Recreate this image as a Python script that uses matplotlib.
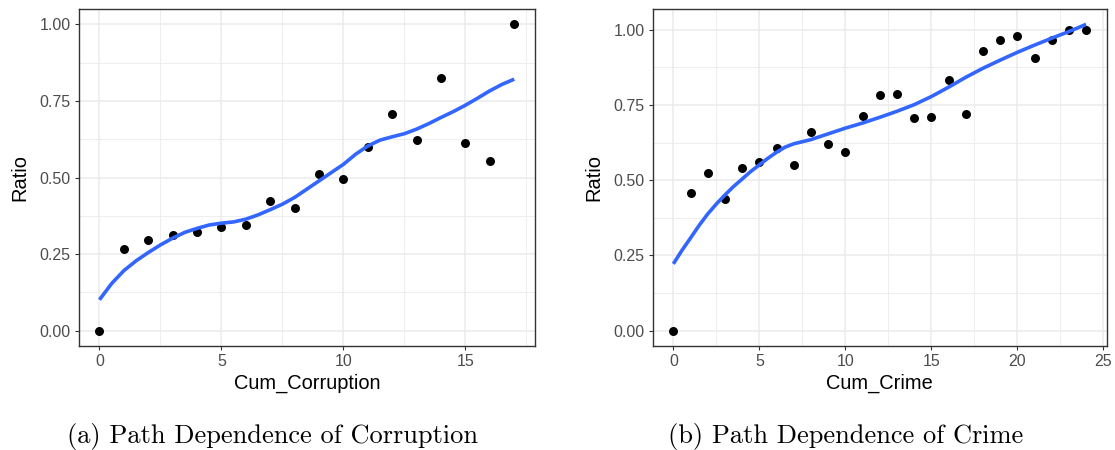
import matplotlib
matplotlib.use('Agg')
import matplotlib.pyplot as plt
from matplotlib.ticker import MultipleLocator

plt.rcParams['font.family'] = ['Liberation Sans', 'DejaVu Sans']

# left panel: corruption
corr_x = list(range(18))
corr_ratio = [0.0, 0.265, 0.296, 0.311, 0.322, 0.340, 0.345, 0.424, 0.399, 0.513,
              0.495, 0.598, 0.707, 0.624, 0.824, 0.611, 0.554, 1.0]
# smooth (loess) line
corr_fit_x = [0, 0.5, 1, 1.5, 2, 2.5, 3, 3.5, 4, 4.5, 5, 5.5, 6, 6.5, 7, 7.5, 8, 8.5,
              9, 9.5, 10, 10.5, 11, 11.5, 12, 12.5, 13, 13.5, 14, 14.5, 15, 15.5, 16, 16.5, 17]
corr_fit_y = [0.101, 0.154, 0.196, 0.228, 0.255, 0.280, 0.302, 0.321, 0.334, 0.345,
              0.351, 0.355, 0.364, 0.378, 0.395, 0.413, 0.435, 0.462, 0.489, 0.516,
              0.543, 0.576, 0.603, 0.622, 0.633, 0.643, 0.658, 0.676, 0.696, 0.715,
              0.736, 0.759, 0.783, 0.804, 0.821]

# right panel: crime
crime_x = list(range(25))
crime_ratio = [0.0, 0.458, 0.525, 0.437, 0.542, 0.562, 0.606, 0.551, 0.659, 0.622,
               0.595, 0.712, 0.782, 0.785, 0.708, 0.709, 0.834, 0.720, 0.929, 0.967,
               0.978, 0.907, 0.967, 1.0, 1.0]
crime_fit_x = [0, 0.5, 1, 1.5, 2, 2.5, 3, 3.5, 4, 4.5, 5, 5.5, 6, 6.5, 7, 7.5, 8, 9,
               10, 11, 12, 13, 14, 15, 16, 17, 18, 19, 20, 21, 22, 23, 24]
crime_fit_y = [0.222, 0.267, 0.308, 0.350, 0.388, 0.421, 0.451, 0.479, 0.504, 0.529,
               0.551, 0.573, 0.593, 0.610, 0.621, 0.628, 0.635, 0.654, 0.673, 0.690,
               0.709, 0.729, 0.751, 0.778, 0.809, 0.842, 0.872, 0.899, 0.925, 0.949,
               0.972, 0.994, 1.018]

y_ticks = [0.0, 0.25, 0.5, 0.75, 1.0]
y_labels = ['0.00', '0.25', '0.50', '0.75', '1.00']

fig = plt.figure(figsize=(11.15, 4.5), dpi=100)
ax1 = fig.add_axes([0.0706, 0.2311, 0.4092, 0.7489])
ax2 = fig.add_axes([0.5854, 0.2311, 0.4072, 0.7489])


def style_panel(ax, x, y, fx, fy, xlab):
    ax.scatter(x, y, s=42, color='black', zorder=3, linewidths=0)
    ax.plot(fx, fy, color='#3366FF', lw=2.6, zorder=4, solid_capstyle='butt')
    ax.set_yticks(y_ticks)
    ax.set_yticklabels(y_labels)
    ax.xaxis.set_major_locator(MultipleLocator(5))
    ax.xaxis.set_minor_locator(MultipleLocator(2.5))
    ax.yaxis.set_minor_locator(MultipleLocator(0.125))
    ax.grid(which='major', color='#EBEBEB', lw=1.1, zorder=0)
    ax.grid(which='minor', color='#EBEBEB', lw=0.6, zorder=0)
    ax.set_axisbelow(True)
    ax.tick_params(which='major', length=3, width=0.8, color='#333333',
                   labelsize=11.5, labelcolor='#4D4D4D', pad=3)
    ax.tick_params(which='minor', length=0)
    for s in ax.spines.values():
        s.set_color('#333333')
        s.set_linewidth(1.0)
    ax.set_xlabel(xlab, fontsize=14.4, labelpad=3)
    ax.set_ylabel('Ratio', fontsize=14.4, labelpad=7)


style_panel(ax1, corr_x, corr_ratio, corr_fit_x, corr_fit_y, 'Cum_Corruption')
ax1.set_xlim(-0.85, 17.85)
ax1.set_ylim(-0.05, 1.05)

style_panel(ax2, crime_x, crime_ratio, crime_fit_x, crime_fit_y, 'Cum_Crime')
ax2.set_xlim(-1.2, 25.2)
ax2.set_ylim(-0.051, 1.069)

fig.text(272.5 / 1115, 1 - 436 / 450, '(a) Path Dependence of Corruption',
         family='cmr10', fontsize=19, ha='center', va='center')
fig.text(846 / 1115, 1 - 436 / 450, '(b) Path Dependence of Crime',
         family='cmr10', fontsize=19, ha='center', va='center')

fig.savefig('out.png', dpi=100)
